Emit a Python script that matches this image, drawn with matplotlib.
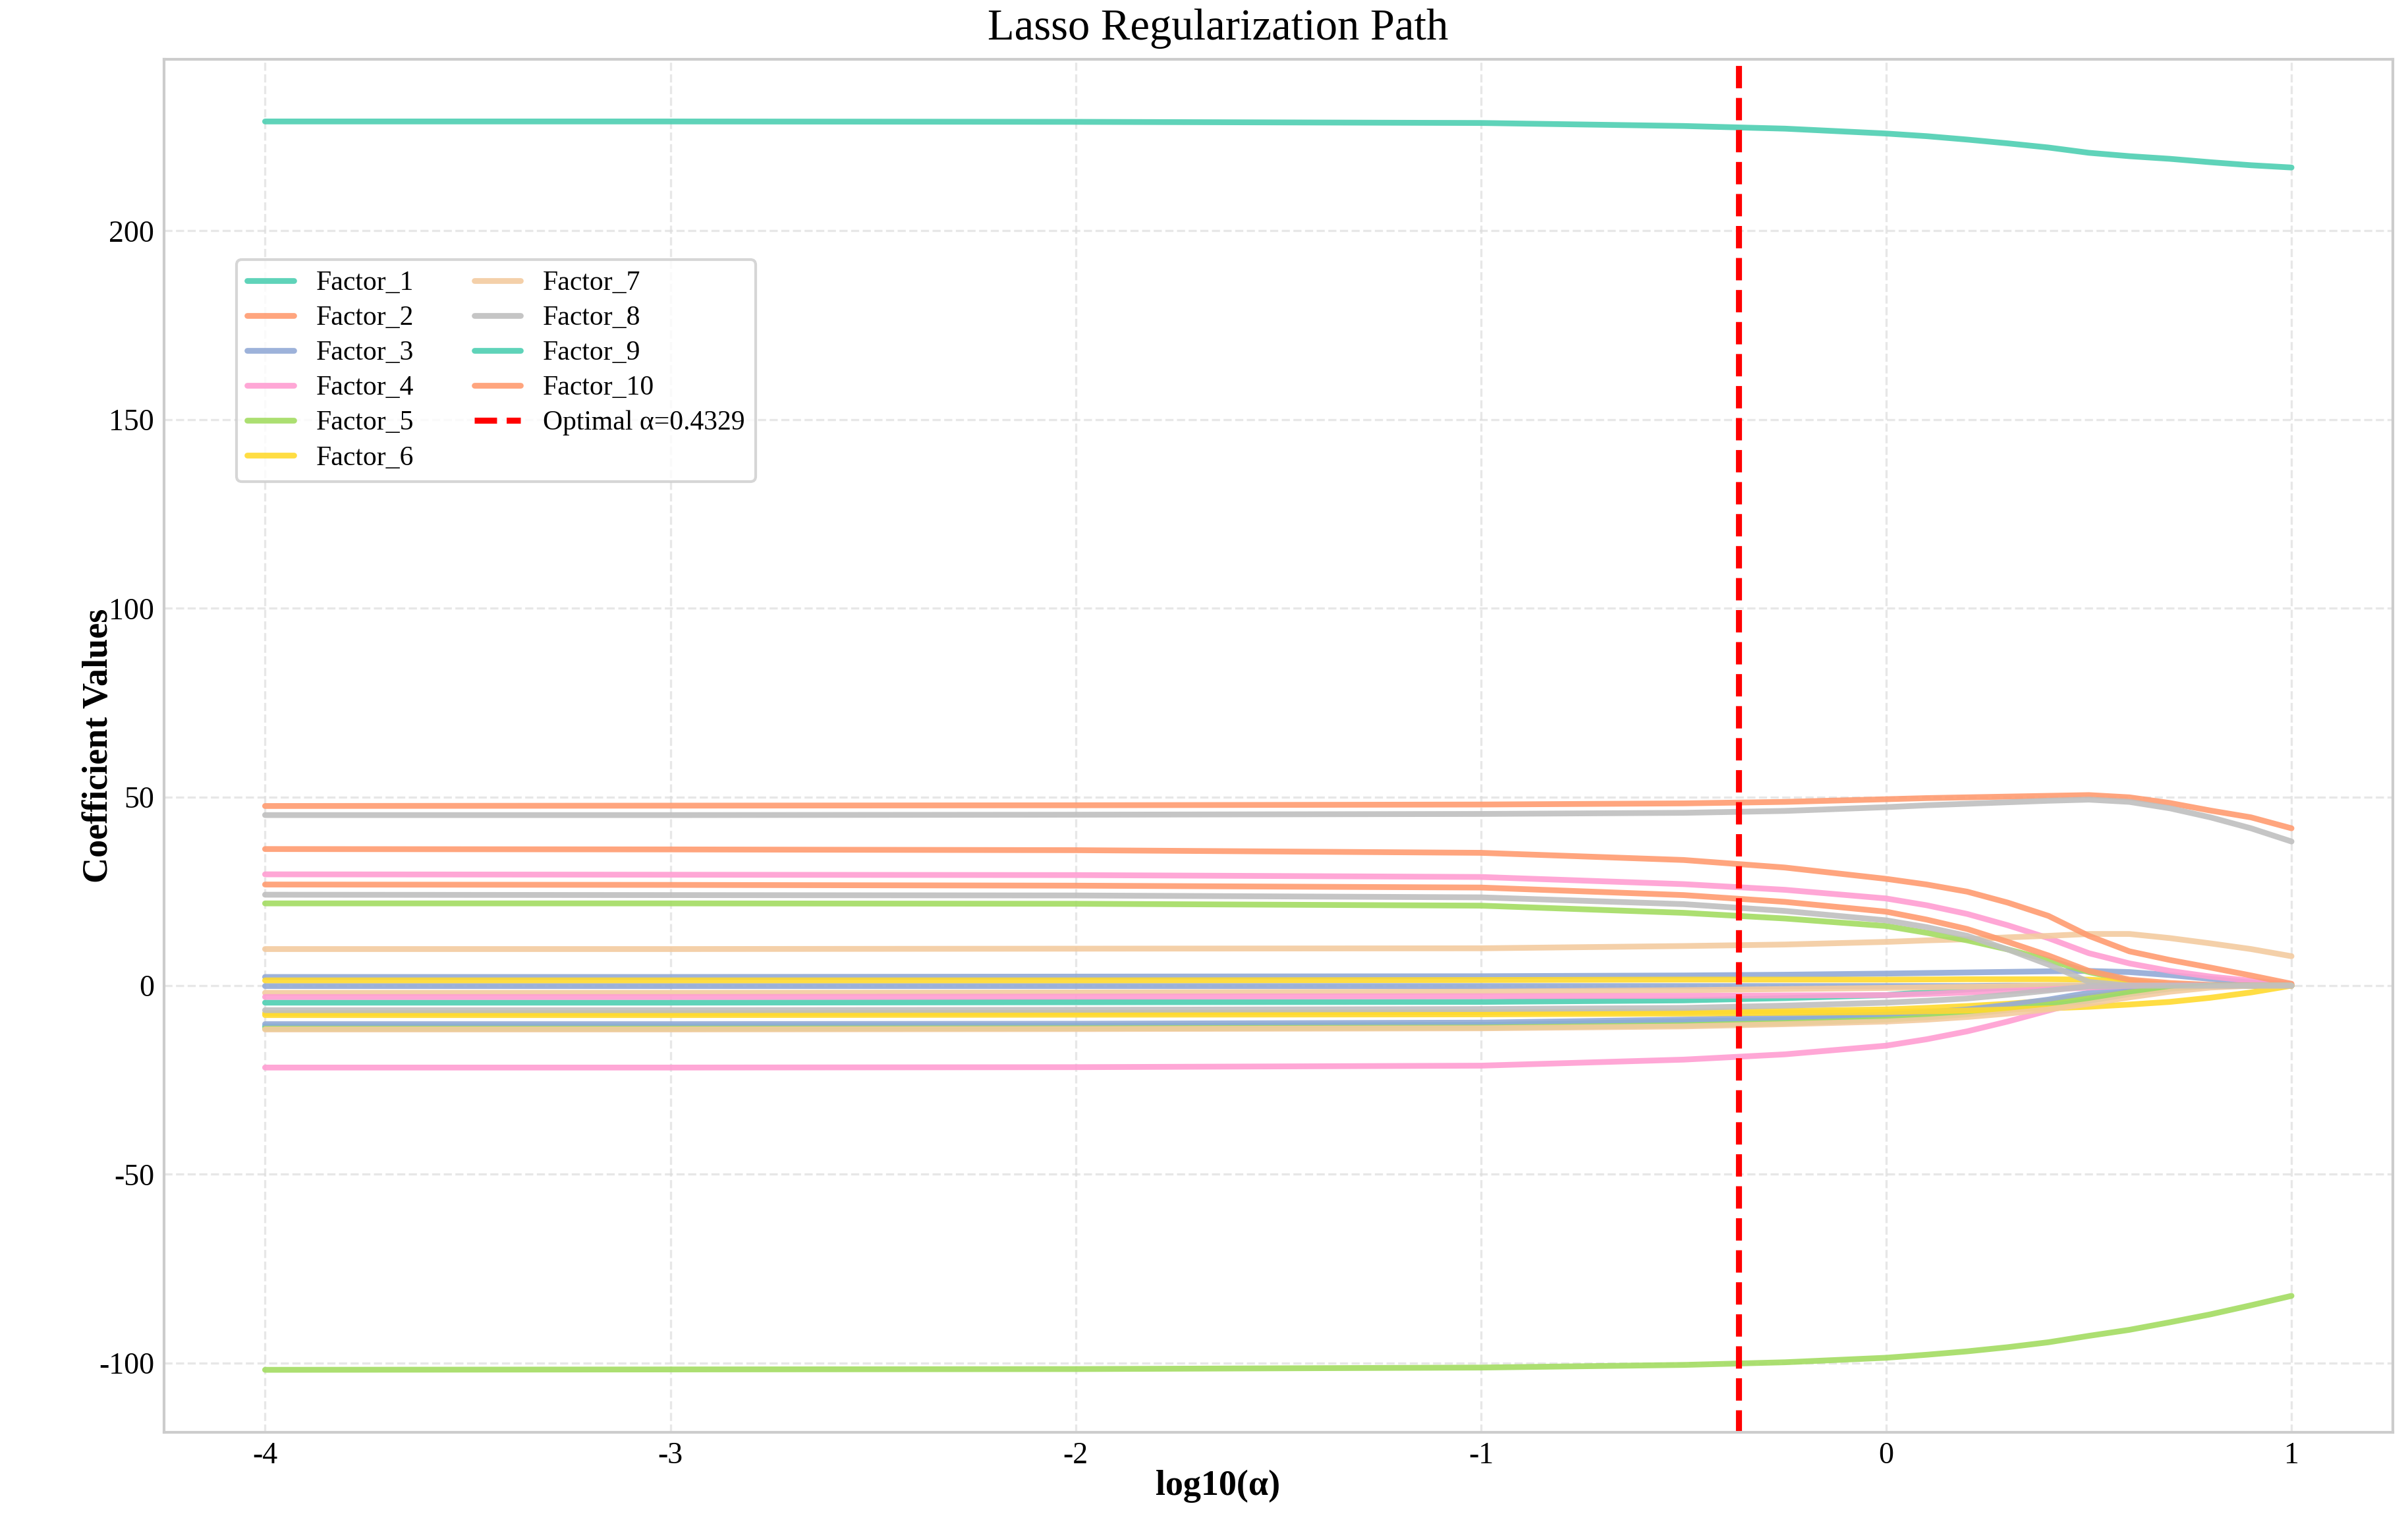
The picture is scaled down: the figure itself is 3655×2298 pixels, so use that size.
import numpy as np
import matplotlib
matplotlib.use("Agg")
import matplotlib.pyplot as plt

plt.rcParams['font.family'] = ['Liberation Serif', 'DejaVu Serif']
plt.rcParams['axes.unicode_minus'] = False

log_alpha = [-4, -3, -2, -1, -0.5, -0.25, 0, 0.1, 0.2, 0.3, 0.4, 0.5, 0.6, 0.7, 0.8, 0.9, 1.0]
optimal_alpha = 0.4329

# coefficient paths (one list per factor)
f1 = [229.0, 229.0, 228.9, 228.6, 227.8, 227.1, 225.8, 225.1, 224.2, 223.2, 222.1, 220.7, 219.8, 219.1, 218.2, 217.4, 216.8]
f2 = [47.6, 47.7, 47.8, 48.0, 48.3, 48.7, 49.4, 49.7, 49.9, 50.1, 50.3, 50.5, 49.9, 48.4, 46.4, 44.6, 41.7]
f3 = [2.3, 2.3, 2.4, 2.5, 2.7, 2.9, 3.2, 3.35, 3.5, 3.65, 3.8, 3.9, 3.6, 2.8, 1.8, 0.8, 0.0]
f4 = [29.5, 29.4, 29.3, 28.8, 26.9, 25.4, 23.1, 21.3, 19.0, 16.0, 12.6, 8.6, 5.9, 3.9, 2.4, 1.3, 0.4]
f5 = [-101.8, -101.7, -101.6, -101.2, -100.5, -99.8, -98.6, -97.8, -96.9, -95.8, -94.5, -92.8, -91.2, -89.2, -87.1, -84.7, -82.2]
f6 = [-7.3, -7.3, -7.2, -7.1, -6.9, -6.7, -6.3, -5.9, -5.4, -4.8, -4.0, -2.8, -1.6, -0.5, 0.0, 0.0, 0.0]
f7 = [9.7, 9.7, 9.8, 9.9, 10.5, 10.9, 11.6, 12.0, 12.3, 12.8, 13.2, 13.7, 13.7, 12.6, 11.2, 9.7, 7.8]
f8 = [45.2, 45.2, 45.3, 45.5, 45.8, 46.3, 47.3, 47.8, 48.2, 48.6, 49.0, 49.3, 48.7, 47.0, 44.6, 41.7, 38.2]
f9 = [-4.5, -4.5, -4.4, -4.3, -3.9, -3.3, -2.5, -1.7, -1.0, -0.5, -0.2, 0.0, 0.0, 0.0, 0.0, 0.0, 0.0]
f10 = [36.2, 36.1, 35.9, 35.2, 33.3, 31.3, 28.3, 26.8, 24.9, 22.0, 18.5, 13.2, 9.1, 6.8, 4.8, 2.7, 0.5]
f11 = [-0.1, -0.1, -0.1, -0.1, -0.1, -0.1, -0.1, -0.1, -0.1, 0.0, 0.0, 0.0, 0.0, 0.0, 0.0, 0.0, 0.0]
f12 = [-21.7, -21.7, -21.6, -21.2, -19.6, -18.2, -15.9, -14.2, -12.1, -9.5, -6.6, -3.7, -1.3, 0.0, 0.0, 0.0, 0.0]
f13 = [21.8, 21.8, 21.7, 21.2, 19.3, 17.8, 15.8, 14.0, 12.0, 9.6, 6.8, 3.6, 1.3, 0.0, 0.0, 0.0, 0.0]
f14 = [1.4, 1.4, 1.4, 1.5, 1.6, 1.6, 1.6, 1.65, 1.7, 1.7, 1.7, 1.6, 1.0, 0.3, 0.0, 0.0, 0.0]
f15 = [-1.9, -1.9, -1.8, -1.6, -1.2, -0.9, -0.6, -0.45, -0.3, -0.15, 0.0, 0.0, 0.0, 0.0, 0.0, 0.0, 0.0]
f16 = [24.1, 24.0, 23.9, 23.4, 21.6, 19.8, 17.3, 15.5, 13.2, 9.6, 5.6, 1.0, 0.0, 0.0, 0.0, 0.0, 0.0]
f17 = [-10.8, -10.8, -10.7, -10.4, -9.5, -9.0, -8.3, -7.8, -7.2, -6.4, -5.4, -4.0, -2.2, -0.8, 0.0, 0.0, 0.0]
f18 = [26.8, 26.7, 26.5, 26.0, 24.0, 22.2, 19.6, 17.5, 15.0, 11.6, 8.0, 3.9, 1.6, 0.7, 0.2, 0.0, 0.0]
f19 = [-10.2, -10.2, -10.1, -9.8, -9.0, -8.4, -7.7, -7.1, -6.3, -5.1, -3.7, -1.9, -0.5, 0.0, 0.0, 0.0, 0.0]
f20 = [-3.0, -3.0, -2.9, -2.8, -2.7, -2.6, -2.5, -2.2, -1.8, -1.4, -1.0, -0.5, 0.0, 0.0, 0.0, 0.0, 0.0]
f21 = [-11.4, -11.4, -11.3, -11.1, -10.5, -9.9, -9.0, -8.4, -7.6, -6.4, -5.0, -3.4, -1.8, -0.6, 0.0, 0.0, 0.0]
f22 = [-7.8, -7.8, -7.7, -7.6, -7.4, -7.2, -7.0, -6.8, -6.6, -6.3, -6.0, -5.6, -5.0, -4.3, -3.2, -1.8, 0.0]
f23 = [-11.6, -11.6, -11.5, -11.3, -10.8, -10.2, -9.5, -9.0, -8.3, -7.4, -6.3, -4.8, -3.1, -1.6, -0.5, 0.0, 0.0]
f24 = [-6.5, -6.5, -6.4, -6.2, -5.9, -5.3, -4.5, -4.0, -3.4, -2.4, -1.3, -0.2, 0.0, 0.0, 0.0, 0.0, 0.0]

paths = [f1, f2, f3, f4, f5, f6, f7, f8, f9, f10, f11, f12,
         f13, f14, f15, f16, f17, f18, f19, f20, f21, f22, f23, f24]
n_labeled = 10

# Set2-like palette, a bit brighter like the reference
colors = ['#4ecfb2', '#ff9b70', '#93aad6', '#ff9ed2',
          '#a3dc62', '#ffda2e', '#f3cba0', '#bfbfbf']

fig, ax = plt.subplots(figsize=(3655 / 300, 2298 / 300), dpi=300)
fig.subplots_adjust(left=0.068, right=0.9937, bottom=0.054, top=0.961)

for i, coef in enumerate(paths):
    label = f"Factor_{i + 1}" if i < n_labeled else None
    ax.plot(log_alpha, coef, color=colors[i % len(colors)], lw=2.1, alpha=0.9,
            label=label, solid_capstyle='round', solid_joinstyle='round')

ax.axvline(np.log10(optimal_alpha), color='red', ls='--', lw=2.2,
           label=f"Optimal α={optimal_alpha}")

ax.set_title("Lasso Regularization Path", fontsize=16, pad=7, x=0.473)
ax.set_xlabel("log10(α)", fontsize=13, fontweight='bold', x=0.473, labelpad=0)
ax.set_ylabel("Coefficient Values", fontsize=13, fontweight='bold', labelpad=-6)

ax.grid(True, ls='--', color='#dddddd', alpha=0.7, lw=0.8)
ax.tick_params(axis='both', length=0, labelsize=11)
for sp in ax.spines.values():
    sp.set_color('#cccccc')
    sp.set_linewidth(1.0)

ax.legend(ncol=2, loc='upper left', bbox_to_anchor=(0.0325, 0.854),
          borderaxespad=0, fontsize=10, frameon=True, edgecolor='#cccccc',
          labelspacing=0.35, handlelength=1.7, columnspacing=2.2)

fig.savefig("out.png", dpi=300)
